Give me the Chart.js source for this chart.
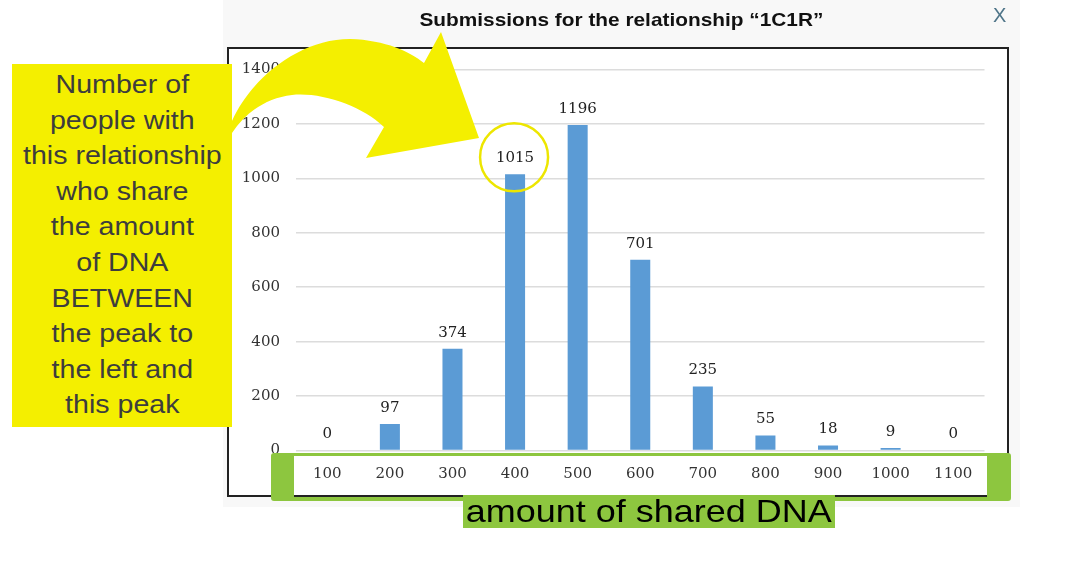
<!DOCTYPE html>
<html><head><meta charset="utf-8">
<script src="https://cdn.jsdelivr.net/npm/chart.js@4/dist/chart.umd.min.js"></script>
<style>
html,body{margin:0;padding:0;background:#fff;width:1080px;height:566px;overflow:hidden;position:relative;font-family:"Liberation Sans",Arial,sans-serif}
#panel{position:absolute;left:223px;top:0;width:797px;height:507px;background:#f8f8f8}
#box{position:absolute;left:227px;top:47px;width:778px;height:446px;border:2px solid #222;background:#fff}
#wrap{position:absolute;left:0;top:0;width:1080px;height:566px}
#title{position:absolute;left:223px;top:9px;width:797px;text-align:center;font-weight:bold;font-size:18.5px;color:#111;white-space:nowrap}
#title span,#xlab span,#note span{display:inline-block;transform-origin:50% 50%}
#close{position:absolute;left:993px;top:4px;font-size:20px;color:#4f7589}
#frame{position:absolute;left:271px;top:453px;width:740px;height:48px;box-sizing:border-box;border-style:solid;border-color:#8DC63F;border-width:3px 24px 4px 23px;border-radius:3px}
#note{position:absolute;left:12px;top:64px;width:220px;height:363px;background:#F4EF00;box-sizing:border-box;padding-top:3px;text-align:center;color:#3d3d3d;font-size:26px;line-height:35.6px}
#xlab{position:absolute;left:463px;top:495px;width:372px;height:33px;background:#8DC63F;text-align:center;color:#000;font-size:32px;line-height:33px;white-space:nowrap}
#arrow{position:absolute;left:0;top:0}
</style></head>
<body>
<div id="panel"></div>
<div id="box"></div>
<div id="wrap"><canvas id="c" width="1080" height="566"></canvas></div>
<div id="frame"></div>
<svg id="arrow" width="1080" height="566"><path d="M232,121 C250,80 298,39 350,39 C386,40 410,52 424,63 L441,32 L479,138 L366,158 L384,127 C362,106 322,92 292,95 C266,98 245,113 232,133 Z" fill="#F4EF00"/></svg>
<div id="note"><span>Number of<br>people with<br>this relationship<br>who share<br>the amount<br>of DNA<br>BETWEEN<br>the peak to<br>the left and<br>this peak</span></div>
<div id="xlab"><span>amount of shared DNA</span></div>
<div id="title"><span>Submissions for the relationship “1C1R”</span></div>
<div id="close">X</div>
<script>
const categories = ['100','200','300','400','500','600','700','800','900','1000','1100'];
const submissions = [0, 97, 374, 1015, 1196, 701, 235, 55, 18, 9, 0];
const yTicks = [0, 200, 400, 600, 800, 1000, 1200, 1400];
const highlighted = '400';

function fit(sel, w){
  const s = document.querySelector(sel);
  const nat = s.getBoundingClientRect().width;
  s.style.transform = 'scaleX(' + (w / nat) + ')';
}
fit('#title span', 404);
fit('#xlab span', 366);
document.querySelector('#note span').style.transform = 'scaleX(1.1)';

const serif = {family: '"DejaVu Serif", serif', size: 15};

const valueLabels = {
  id: 'valueLabels',
  afterDatasetsDraw(chart){
    const ctx = chart.ctx;
    const meta = chart.getDatasetMeta(0);
    ctx.save();
    ctx.font = '15px "DejaVu Serif", serif';
    ctx.fillStyle = '#222';
    ctx.textAlign = 'center';
    ctx.textBaseline = 'middle';
    meta.data.forEach((el, i) => {
      ctx.fillText(String(submissions[i]), el.x, el.y - 16);
      if (categories[i] === highlighted){
        ctx.strokeStyle = '#EDE600';
        ctx.lineWidth = 2.5;
        ctx.beginPath();
        ctx.arc(el.x - 1, el.y - 17, 34, 0, Math.PI * 2);
        ctx.stroke();
      }
    });
    ctx.restore();
  }
};

new Chart(document.getElementById('c'), {
  type: 'bar',
  data: {
    labels: categories,
    datasets: [{data: submissions, backgroundColor: '#5B9BD5', borderWidth: 0, barPercentage: 0.32, categoryPercentage: 1}]
  },
  options: {
    responsive: false, animation: false, devicePixelRatio: 1,
    layout: {padding: {top: 69.5, right: 95.5, left: 0, bottom: 0}},
    plugins: {legend: {display: false}, tooltip: {enabled: false}, title: {display: false}},
    scales: {
      x: {
        grid: {display: false, drawTicks: false}, border: {display: false},
        ticks: {font: serif, color: '#333', padding: 15, maxRotation: 0},
        afterFit(s){ s.height = 566 - 450.5; }
      },
      y: {
        min: 0, max: 1400,
        grid: {color: '#dcdcdc', lineWidth: 1.5, drawTicks: false}, border: {display: false},
        ticks: {font: serif, color: '#333', padding: 16, callback: v => String(v)},
        afterBuildTicks(s){ s.ticks = yTicks.map(v => ({value: v})); },
        afterFit(s){ s.width = 296; }
      }
    }
  },
  plugins: [valueLabels]
});
</script>
</body></html>
